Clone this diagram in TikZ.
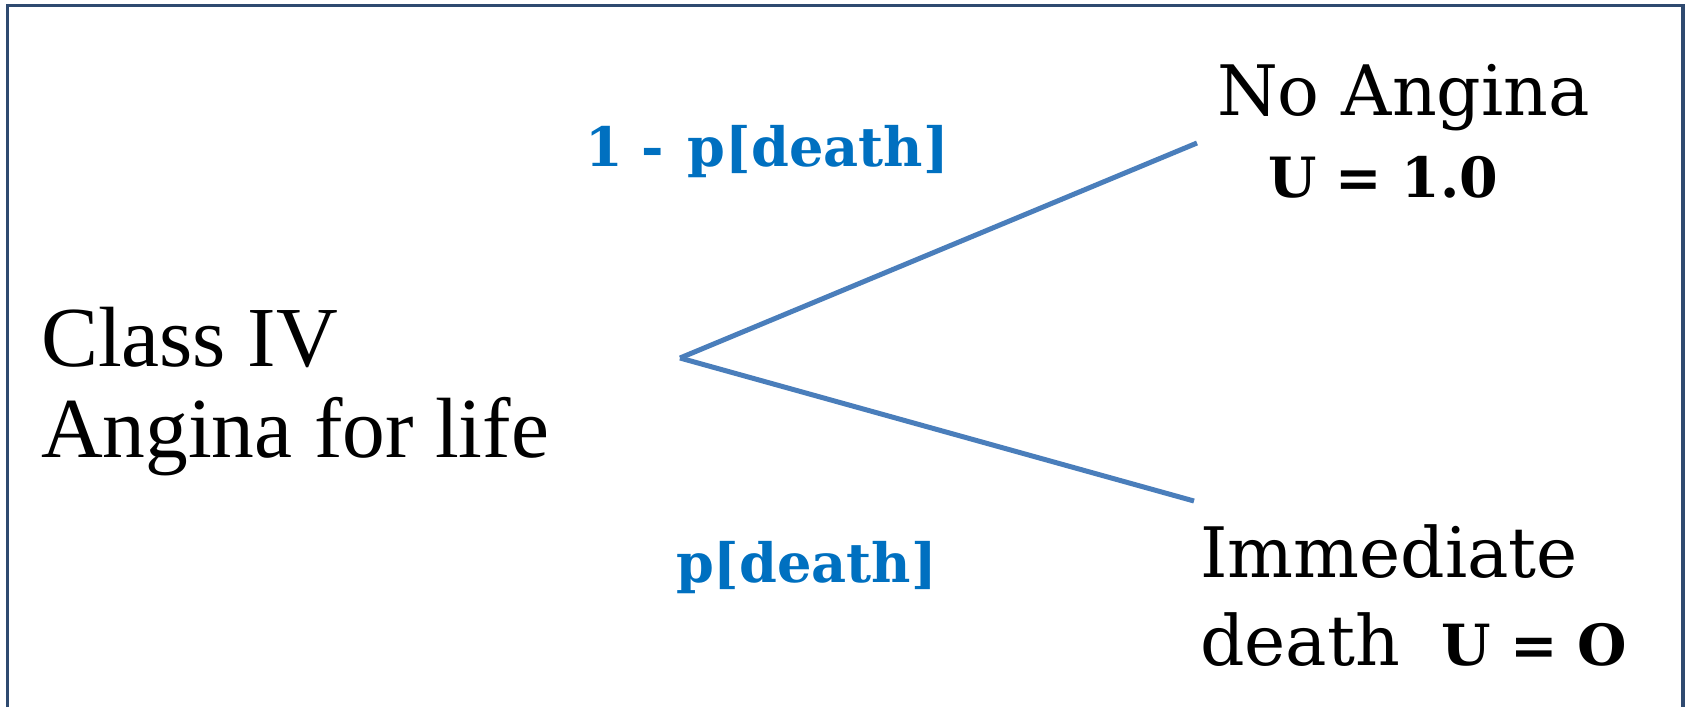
\documentclass[tikz,border=0pt]{standalone}
\usepackage{fontspec}
\setmainfont{Liberation Serif}
\newfontfamily\bk{DejaVu Serif}
\newlength\mytmpw
\newcommand\fitsize[4]{%
  \settowidth\mytmpw{#3\fontsize{10}{12}\selectfont #4}%
  \pgfmathsetmacro#1{10*#2/\mytmpw}%
  \global\let#1#1}
\AtBeginDocument{%
  \fitsize\szL{508}{\rmfamily}{Angina for life}%
  \fitsize\szR{373}{\bk}{No Angina}%
  \fitsize\szU{230}{\bk\bfseries}{U = 1.0}%
  \fitsize\szO{186}{\bk\bfseries}{U = O}%
  \fitsize\szP{261}{\bk\bfseries}{p[death]}%
}
\definecolor{framecol}{RGB}{47,74,112}
\definecolor{branchcol}{RGB}{74,126,187}
\definecolor{probcol}{RGB}{0,112,192}
\tikzset{
  txt/.style={anchor=base west, inner sep=0pt, outer sep=0pt},
  branch/.style={draw=branchcol, line width=5pt},
  frameline/.style={draw=framecol, line width=3.2pt}
}
\begin{document}
\begin{tikzpicture}[x=1pt,y=-1pt]
\useasboundingbox (0,0) rectangle (1688,707);
% frame (bottom edge lies outside the picture)
\draw[frameline] (7.5,707) -- (7.5,5.5) -- (1683,5.5) -- (1683,707);
% tree
\coordinate (root) at (680,358);
\coordinate (up) at (1197,143);
\coordinate (down) at (1194,501);
\draw[branch] (root) -- (up);
\draw[branch] (root) -- (down);
% left text
\node[txt, font=\fontsize{\szL}{\szL}\selectfont] (cls) at (41,366) {Class IV};
\node[txt, font=\fontsize{\szL}{\szL}\selectfont] (afl) at (41,457) {Angina for life};
% outcomes
\node[txt, font=\bk\fontsize{\szR}{\szR}\selectfont] (na) at (1217,115) {No Angina};
\node[txt, font=\bk\bfseries\fontsize{\szU}{\szU}\selectfont] (u1) at (1268,197) {U = 1.0};
\node[txt, font=\bk\fontsize{\szR}{\szR}\selectfont] (imm) at (1200,577) {Immediate};
\node[txt, font=\bk\fontsize{\szR}{\szR}\selectfont] (dth) at (1200,665) {death};
\node[txt, font=\bk\bfseries\fontsize{\szO}{\szO}\selectfont] (u0) at (1441,665) {U = O};
% probabilities
\node[txt, text=probcol, font=\bk\bfseries\fontsize{\szP}{\szP}\selectfont] (p1) at (585,166)
  {\makebox[57pt][l]{1}\makebox[46pt][l]{-}p[death]};
\node[txt, text=probcol, font=\bk\bfseries\fontsize{\szP}{\szP}\selectfont] (p2) at (676,582) {p[death]};
\end{tikzpicture}
\end{document}
